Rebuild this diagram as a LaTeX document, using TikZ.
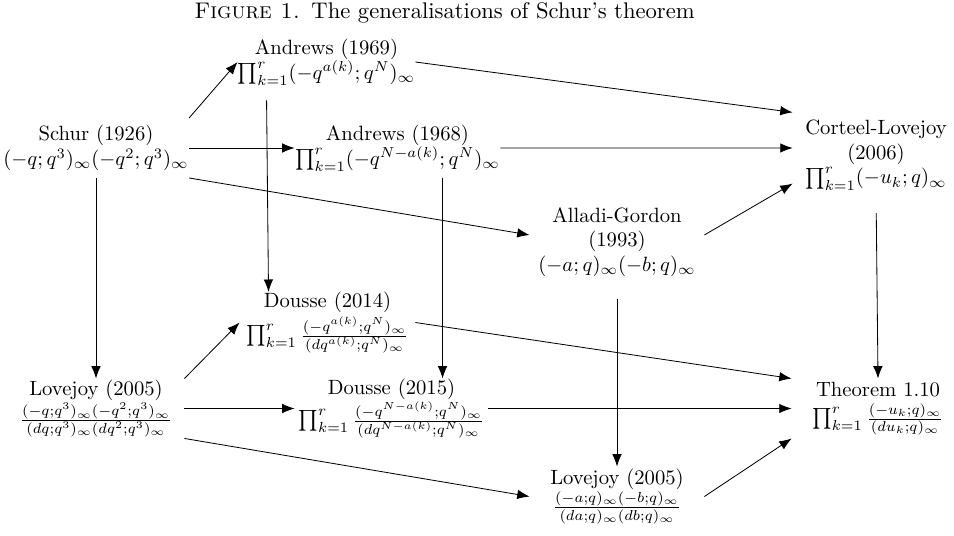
\documentclass[tikz,border=0pt]{standalone}
\usepackage{amsmath}
\usepackage{amssymb}
\usetikzlibrary{arrows.meta}
\begin{document}
\begin{tikzpicture}[x=0.484pt,y=-0.484pt,>={Latex[length=6pt,width=4.6pt]},
  box/.style={minimum width=84.2pt,minimum height=28.6pt,inner sep=0pt,align=center},
  arrow/.style={->}]
\useasboundingbox (0,0) rectangle (954,535);
\node (title) at (444.5,12.4) {\fontsize{10.95}{13.6}\selectfont\textsc{Figure 1.}\enspace The generalisations of Schur's theorem};
\node[box,minimum width=85.2pt] (schur) at (96,148) {Schur (1926)\\$(-q;q^3)_\infty(-q^2;q^3)_\infty$};
\node[box,minimum width=83.7pt] (and69) at (326.5,62) {Andrews (1969)\\$\prod_{k=1}^r(-q^{a(k)};q^N)_\infty$};
\node[box,minimum width=99.2pt] (and68) at (397.5,148) {Andrews (1968)\\$\prod_{k=1}^r(-q^{N-a(k)};q^N)_\infty$};
\node[box,minimum width=80.3pt] (corlov) at (876,155) {Corteel-Lovejoy\\(2006)\\$\prod_{k=1}^r(-u_k;q)_\infty$};
\node[box] (allgor) at (617,242) {Alladi-Gordon\\(1993)\\$(-a;q)_\infty(-b;q)_\infty$};
\node[box,minimum width=84.7pt] (dou14) at (327.5,322.5) {Dousse (2014)\\[1pt]$\prod_{k=1}^r \frac{(-q^{a(k)};q^N)_\infty}{(dq^{a(k)};q^N)_\infty}$};
\node[box,minimum width=85.2pt] (lov05) at (96,408.5) {Lovejoy (2005)\\$\frac{(-q;q^3)_\infty(-q^2;q^3)_\infty}{(dq;q^3)_\infty(dq^2;q^3)_\infty}$};
\node[box,minimum width=93.4pt] (dou15) at (391.5,408.5) {Dousse (2015)\\$\prod_{k=1}^r \frac{(-q^{N-a(k)};q^N)_\infty}{(dq^{N-a(k)};q^N)_\infty}$};
\node[box,minimum width=83.2pt] (thm) at (878,408.5) {Theorem 1.10\\[1.5pt]$\prod_{k=1}^r \frac{(-u_k;q)_\infty}{(du_k;q)_\infty}$};
\node[box] (lovab) at (617,496.5) {Lovejoy (2005)\\$\frac{(-a;q)_\infty(-b;q)_\infty}{(da;q)_\infty(db;q)_\infty}$};
% out of Schur
\draw[arrow] (schur.north east) -- (and69.west);
\draw[arrow] (schur.east) -- (and68.west);
\draw[arrow] (schur.south east) -- ([yshift=3.4pt]allgor.west);
\draw[arrow] (schur.south) -- (lov05.north);
% top row
\draw[arrow] (and69.east) -- ([yshift=3.4pt]corlov.north west);
\draw[arrow] (and68.east) -- ([yshift=3.4pt]corlov.west);
\draw[arrow] ([yshift=3.4pt]allgor.east) -- ([yshift=3.4pt]corlov.south west);
\draw[arrow,shorten <=4.1pt] ([xshift=14pt]and69.south west) -- ([xshift=14pt]dou14.north west);
\draw[arrow] ([xshift=71.6pt]and68.south west) -- ([xshift=71.6pt]dou15.north west);
\draw[arrow,shorten <=10.4pt] (allgor.south) -- (lovab.north);
\draw[arrow,shorten <=10.9pt] (corlov.south) -- (thm.north);
% out of Lovejoy
\draw[arrow] (lov05.north east) -- (dou14.west);
\draw[arrow] (lov05.east) -- (dou15.west);
\draw[arrow] (lov05.south east) -- (lovab.west);
% into Theorem 1.10
\draw[arrow] (dou14.east) -- (thm.north west);
\draw[arrow] (dou15.east) -- (thm.west);
\draw[arrow] (lovab.east) -- (thm.south west);
\end{tikzpicture}
\end{document}
